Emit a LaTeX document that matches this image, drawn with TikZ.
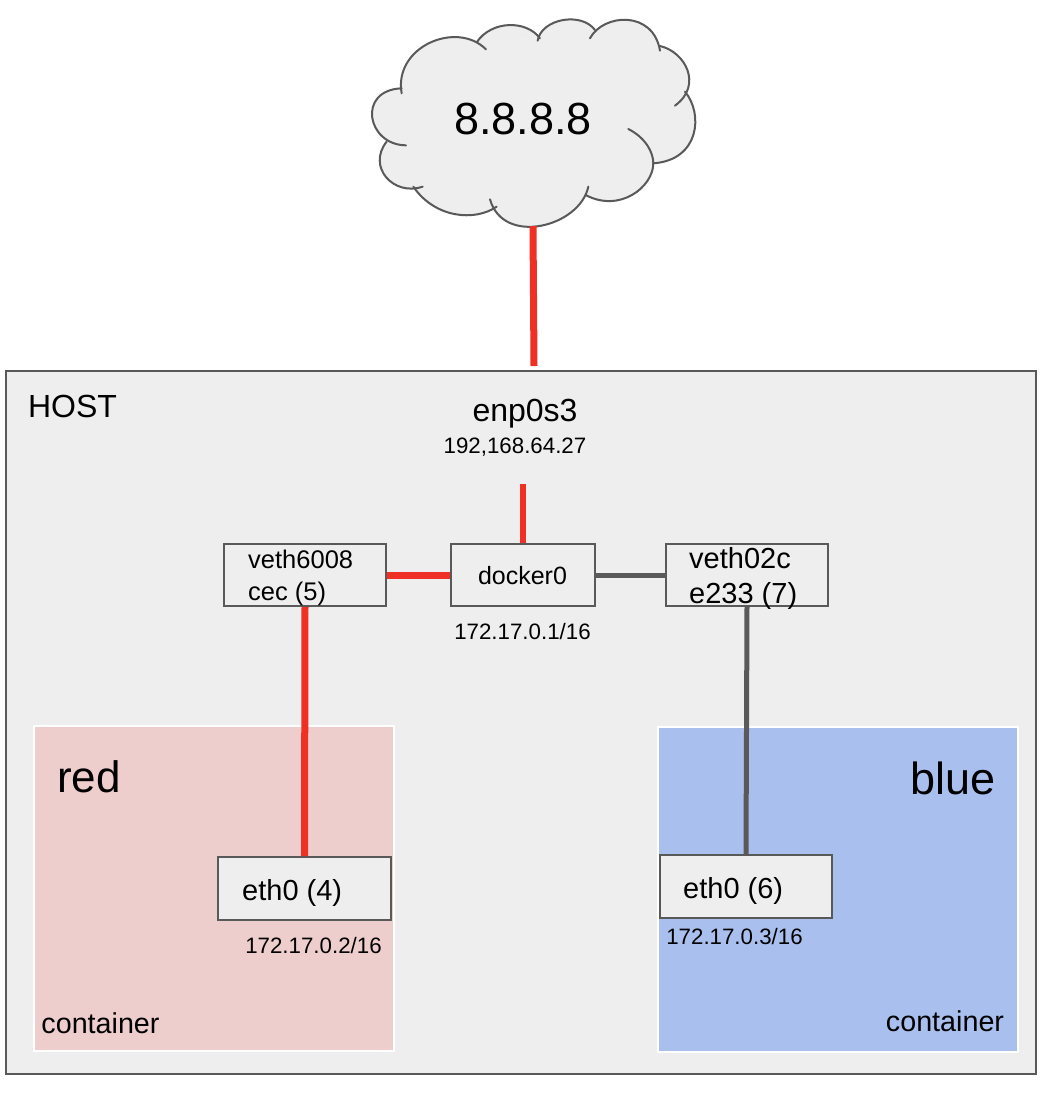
\documentclass[tikz,border=0pt]{standalone}
\usepackage{fontspec}
\setmainfont{Liberation Sans}
\definecolor{fillgray}{HTML}{EEEEEE}
\definecolor{linegray}{HTML}{595959}
\definecolor{linkred}{HTML}{EE3124}
\definecolor{redbg}{HTML}{EECDCD}
\definecolor{bluebg}{HTML}{A9C0EF}
\newcommand{\fs}[1]{\fontsize{#1}{#1}\selectfont}
\tikzset{
  netbox/.style={draw=linegray,line width=2pt,fill=fillgray,inner sep=0pt},
  zonebox/.style={draw=white,line width=2pt,inner sep=0pt},
  lbl/.style={inner sep=0pt,text=black,align=left},
  redlink/.style={draw=linkred,line width=7pt},
  graylink/.style={draw=linegray,line width=5pt},
  lobe/.style={draw=linegray,line width=2pt,line cap=round},
  lobefill/.style={fill=fillgray,draw=fillgray,line width=1.5pt}
}
\newcommand{\lobeA}{(125,250) .. controls (100,110) and (290,30) .. (378,118)}
\newcommand{\lobeB}{(350,97) .. controls (395,30) and (500,30) .. (540,85)}
\newcommand{\lobeC}{(533,92) .. controls (545,25) and (665,5) .. (705,60)}
\newcommand{\lobeD}{(690,85) .. controls (730,10) and (880,0) .. (900,122)}
\newcommand{\lobeE}{(900,108) .. controls (975,125) and (1030,225) .. (945,287)}
\newcommand{\lobeF}{(975,245) .. controls (1030,310) and (1020,450) .. (880,460)}
\newcommand{\lobeG}{(805,357) .. controls (860,385) and (880,430) .. (880,460) .. controls (880,530) and (780,610) .. (677,555)}
\newcommand{\lobeH}{(685,530) .. controls (660,650) and (430,710) .. (390,568)}
\newcommand{\lobeI}{(410,590) .. controls (345,635) and (225,625) .. (160,530)}
\newcommand{\lobeJ}{(188,530) .. controls (100,560) and (20,470) .. (80,395)}
\newcommand{\lobeK}{(138,406) .. controls (20,405) and (-10,240) .. (125,235)}
\begin{document}
\begin{tikzpicture}[x=1pt,y=-1pt]
\useasboundingbox (0,0) rectangle (1050,1096);
\fill[white] (0,0) rectangle (1050,1096);
% cloud
\begin{scope}[shift={(360,10)},x=0.3333pt,y=-0.3333pt]
\filldraw[lobefill] \lobeA; \filldraw[lobefill] \lobeB; \filldraw[lobefill] \lobeC; \filldraw[lobefill] \lobeD;
\filldraw[lobefill] \lobeE; \filldraw[lobefill] \lobeF; \filldraw[lobefill] \lobeG; \filldraw[lobefill] \lobeH;
\filldraw[lobefill] \lobeI; \filldraw[lobefill] \lobeJ; \filldraw[lobefill] \lobeK;
\filldraw[lobefill] (125,235) -- (350,97) -- (537,88) -- (705,60) -- (900,108) -- (975,245) -- (880,460) -- (677,555) -- (410,590) -- (160,530) -- (80,395) -- cycle;
\draw[lobe] \lobeA; \draw[lobe] \lobeB; \draw[lobe] \lobeC; \draw[lobe] \lobeD;
\draw[lobe] \lobeE; \draw[lobe] \lobeF; \draw[lobe] \lobeG; \draw[lobe] \lobeH;
\draw[lobe] \lobeI; \draw[lobe] \lobeJ; \draw[lobe] \lobeK;
\end{scope}
\node[lbl,font=\fs{45}] (cloudtext) at (523,119) {8.8.8.8};
\coordinate (cloudfoot) at (533,226);
% host
\node[netbox,minimum width=1030pt,minimum height=703pt] (host) at (521,722.5) {};
\coordinate (hosttop) at (534,366);
\node[lbl,font=\fs{32}] (hostlabel) at (72.5,406) {HOST};
\node[lbl,font=\fs{32}] (enp) at (525,414) {enp0s3};
\node[lbl,font=\fs{22.3}] (enpip) at (515,447) {192,168.64.27};
\coordinate (enptail) at (523,484);
% containers
\node[zonebox,fill=redbg,minimum width=360pt,minimum height=325pt] (redbox) at (214,888.5) {};
\node[zonebox,fill=bluebg,minimum width=360pt,minimum height=325pt] (bluebox) at (838,889.5) {};
\node[lbl,font=\fs{44}] (redlabel) at (89,777) {red};
\node[lbl,font=\fs{45}] (bluelabel) at (953,778) {blue};
\node[lbl,font=\fs{28.7}] (redcont) at (100.5,1023) {container};
\node[lbl,font=\fs{28.7}] (bluecont) at (945,1021) {container};
% boxes
\node[netbox,minimum width=162pt,minimum height=62pt] (veth1) at (305,575) {};
\node[netbox,minimum width=144pt,minimum height=62pt] (docker) at (523,575) {};
\node[netbox,minimum width=162pt,minimum height=62pt] (veth2) at (747,575) {};
\node[netbox,minimum width=173pt,minimum height=63pt] (eth4) at (304.5,888.5) {};
\node[netbox,minimum width=172pt,minimum height=63pt] (eth6) at (746,886.5) {};
% connectors
\draw[redlink] (cloudfoot) -- (hosttop);
\draw[draw=linkred,line width=6pt] (enptail) -- (docker.north);
\draw[redlink] (veth1.east) -- (docker.west);
\draw[graylink] (docker.east) -- (veth2.west);
\draw[redlink] (veth1.south) -- (eth4.north);
\draw[graylink] (veth2.south) -- (eth6.north);
% box labels
\node[lbl,anchor=west,font=\fontsize{25.5}{32}\selectfont] (veth1text) at (248,578) {veth6008\\cec (5)};
\node[lbl,font=\fs{25}] (dockertext) at (522.5,576) {docker0};
\node[lbl,anchor=west,font=\fontsize{29}{35}\selectfont] (veth2text) at (689,578) {veth02c\\e233 (7)};
\node[lbl,anchor=west,font=\fs{29}] (eth4text) at (242,893) {eth0 (4)};
\node[lbl,anchor=west,font=\fs{29}] (eth6text) at (683,891) {eth0 (6)};
\node[lbl,font=\fs{22.3}] (dockerip) at (522.5,632) {172.17.0.1/16};
\node[lbl,font=\fs{22.3}] (eth4ip) at (313.5,946) {172.17.0.2/16};
\node[lbl,font=\fs{22.3}] (eth6ip) at (734.5,937) {172.17.0.3/16};
\end{tikzpicture}
\end{document}
